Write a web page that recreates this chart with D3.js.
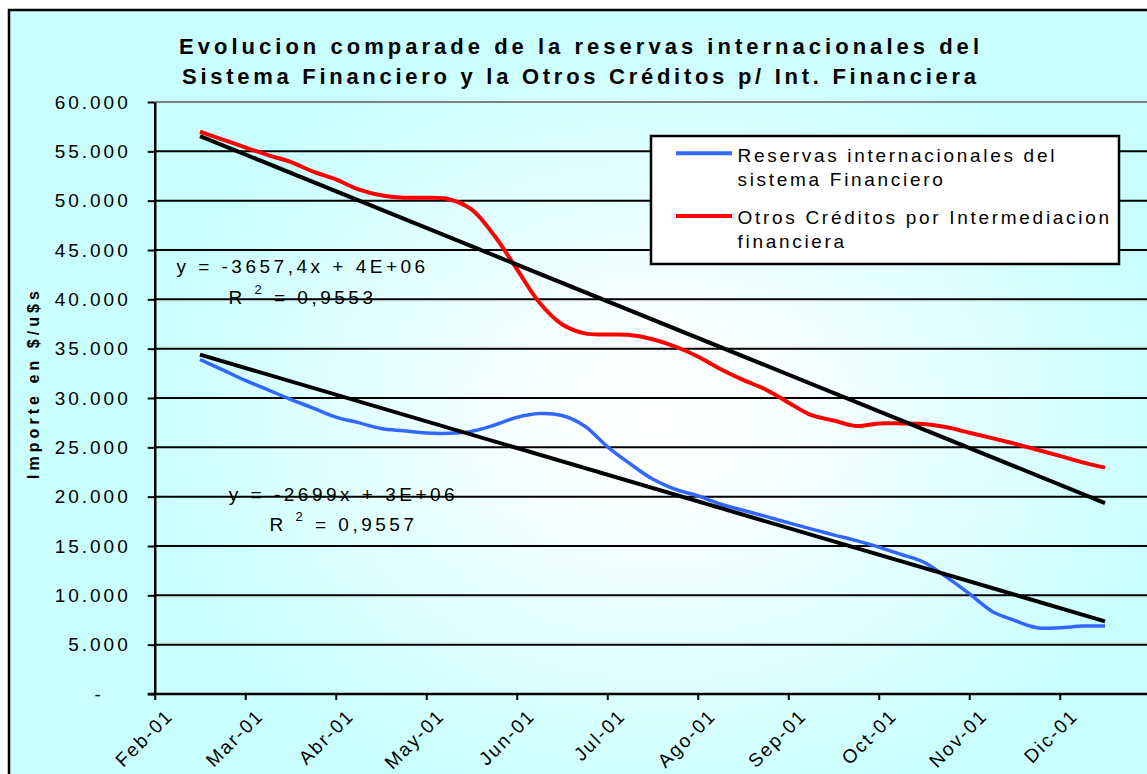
<!DOCTYPE html>
<html>
<head>
    <meta charset="utf-8">
    <script src="https://cdn.jsdelivr.net/npm/d3@7"></script>
    <title>Evolucion comparada</title>
    <style>
        body { margin: 0; background: #ffffff; }
        svg { display: block; }
        text { font-family: Arial, "Liberation Sans", sans-serif; fill: #000; }
    </style>
</head>
<body>
<script>

    // Month ticks (position 0 = Feb-01)
    var months = ["Feb-01", "Mar-01", "Abr-01", "May-01", "Jun-01", "Jul-01",
                  "Ago-01", "Sep-01", "Oct-01", "Nov-01", "Dic-01"];
    var monthPos = [0, 1, 2, 3, 4, 5, 6, 7, 8, 9, 10];

    // Sample positions along the month axis
    var samplePos = [0.5, 0.75, 1, 1.25, 1.5, 1.75, 2, 2.25, 2.5, 2.75,
                     3, 3.25, 3.5, 3.75, 4, 4.25, 4.5, 4.75, 5, 5.25,
                     5.5, 5.75, 6, 6.25, 6.5, 6.75, 7, 7.25, 7.5, 7.75,
                     8, 8.25, 8.5, 8.75, 9, 9.25, 9.5, 9.75, 10, 10.25, 10.5];

    // Reservas internacionales del sistema Financiero
    var reservas = [33900, 32850, 31790, 30830, 29870, 28980, 28070, 27500, 26910, 26670,
                    26450, 26420, 26620, 27240, 28040, 28430, 28230, 27170, 25080, 23350,
                    21790, 20750, 20090, 19260, 18620, 18000, 17360, 16730, 16130, 15540,
                    14890, 14140, 13350, 11840, 10180, 8390, 7460, 6720, 6720, 6880, 6890];

    // Otros Creditos por Intermediacion financiera
    var otrosCreditos = [57000, 56190, 55390, 54620, 53930, 52940, 52160, 51140, 50540, 50300,
                         50300, 50150, 49120, 46490, 43090, 39680, 37470, 36550, 36440, 36380,
                         35960, 35220, 34210, 32940, 31830, 30860, 29550, 28280, 27720, 27160,
                         27420, 27420, 27360, 27030, 26480, 25930, 25370, 24760, 24130, 23480, 22940];

    var yTicks = [0, 5000, 10000, 15000, 20000, 25000, 30000, 35000, 40000, 45000, 50000, 55000, 60000];

    var titleLines = ["Evolucion comparade de la reservas internacionales del",
                      "Sistema Financiero y la Otros Créditos p/ Int. Financiera"];
    var legendReservas = ["Reservas internacionales del", "sistema Financiero"];
    var legendOtros = ["Otros Créditos por Intermediacion", "financiera"];

    var eqOtros = ["y = -3657,4x + 4E+06", "0,9553"];
    var eqReservas = ["y = -2699x + 3E+06", "0,9557"];

    var width = 1147;
    var height = 774;

    var x = d3.scaleLinear().domain([0, 10]).range([154.75, 1059.75]);
    var y = d3.scaleLinear().domain([0, 60000]).range([694, 102]);

    var svg = d3.select("body").append("svg")
        .attr("width", width)
        .attr("height", height);

    // Background gradient
    var defs = svg.append("defs");
    var grad = defs.append("radialGradient")
        .attr("id", "bg")
        .attr("gradientUnits", "userSpaceOnUse")
        .attr("cx", 0).attr("cy", 0).attr("r", 1)
        .attr("gradientTransform", "translate(660,420) scale(520,400)");
    grad.append("stop").attr("offset", "0%").attr("stop-color", "#ffffff");
    grad.append("stop").attr("offset", "25%").attr("stop-color", "#f8ffff");
    grad.append("stop").attr("offset", "100%").attr("stop-color", "#c9ffff");

    svg.append("rect")
        .attr("x", 9).attr("y", 10)
        .attr("width", 1400).attr("height", 900)
        .attr("fill", "url(#bg)")
        .attr("stroke", "#000")
        .attr("stroke-width", 2.5);

    // Title
    svg.selectAll(".title")
        .data(titleLines)
        .enter().append("text")
        .attr("class", "title")
        .attr("x", 579)
        .attr("y", function(d, i) { return 54 + i * 29.5; })
        .attr("text-anchor", "middle")
        .attr("font-size", 22)
        .attr("font-weight", "bold")
        .attr("textLength", function(d, i) { return i == 0 ? 800 : 794; })
        .attr("lengthAdjust", "spacing")
        .text(function(d) { return d; });

    // Gridlines
    var xRight = x(11.2);
    svg.selectAll(".grid")
        .data(yTicks.filter(function(d) { return d > 0; }))
        .enter().append("line")
        .attr("x1", x.range()[0]).attr("x2", xRight)
        .attr("y1", function(d) { return y(d); })
        .attr("y2", function(d) { return y(d); })
        .attr("stroke", function(d) { return d == 60000 ? "#808080" : "#000"; })
        .attr("stroke-width", 2);

    // Y axis
    var yAxis = d3.axisLeft(y)
        .tickValues(yTicks)
        .tickSize(7)
        .tickSizeOuter(0)
        .tickFormat(function(d) {
            return d == 0 ? "-" : d3.format(",")(d).replace(/,/g, ".");
        });

    var gy = svg.append("g")
        .attr("transform", "translate(" + x.range()[0] + ",0)")
        .call(yAxis);
    gy.select(".domain").attr("stroke-width", 2.5);
    gy.selectAll(".tick line").attr("stroke-width", 2);
    gy.selectAll(".tick text")
        .attr("font-size", 19)
        .attr("font-family", "Arial, 'Liberation Sans', sans-serif")
        .attr("letter-spacing", 3)
        .attr("fill", "#000")
        .attr("x", function(d) { return d == 0 ? -51 : -24; });

    // X axis
    var xAxis = d3.axisBottom(x)
        .tickValues(monthPos)
        .tickSize(6)
        .tickSizeOuter(0)
        .tickFormat(function(d, i) { return months[i]; });

    var gx = svg.append("g")
        .attr("transform", "translate(0," + y(0) + ")")
        .call(xAxis);
    gx.select(".domain").remove();
    gx.append("line")
        .attr("x1", x.range()[0] - 7).attr("x2", xRight)
        .attr("y1", 0).attr("y2", 0)
        .attr("stroke", "#000")
        .attr("stroke-width", 2.5);
    gx.selectAll(".tick line").attr("stroke-width", 2);
    gx.selectAll(".tick text")
        .attr("font-size", 19)
        .attr("font-family", "Arial, 'Liberation Sans', sans-serif")
        .attr("letter-spacing", 2)
        .attr("fill", "#000")
        .attr("x", 0).attr("y", 0).attr("dy", 0)
        .attr("text-anchor", "end")
        .attr("transform", "translate(19,23) rotate(-45)");

    // Y axis title
    svg.append("text")
        .attr("transform", "translate(39,385) rotate(-90)")
        .attr("text-anchor", "middle")
        .attr("font-size", 16)
        .attr("font-weight", "bold")
        .attr("textLength", 188)
        .attr("lengthAdjust", "spacing")
        .text("Importe en $/u$s");

    // Series
    var seriesData = function(vals) {
        return samplePos.map(function(p, i) { return [p, vals[i]]; });
    };

    var line = d3.line()
        .x(function(d) { return x(d[0]); })
        .y(function(d) { return y(d[1]); })
        .curve(d3.curveCatmullRom.alpha(0.5));

    // Linear trend (least squares)
    function trend(vals) {
        var mx = d3.mean(samplePos);
        var my = d3.mean(vals);
        var num = 0, den = 0;
        samplePos.forEach(function(p, i) {
            num += (p - mx) * (vals[i] - my);
            den += (p - mx) * (p - mx);
        });
        var b = num / den;
        var a = my - b * mx;
        var ends = [samplePos[0], samplePos[samplePos.length - 1]];
        return ends.map(function(p) { return [p, a + b * p]; });
    }

    svg.append("path")
        .datum(seriesData(reservas))
        .attr("d", line)
        .attr("fill", "none")
        .attr("stroke", "#3366ff")
        .attr("stroke-width", 3.5)
        .attr("stroke-linejoin", "round");

    svg.append("path")
        .datum(seriesData(otrosCreditos))
        .attr("d", line)
        .attr("fill", "none")
        .attr("stroke", "#ff0000")
        .attr("stroke-width", 4)
        .attr("stroke-linejoin", "round");

    var straight = d3.line()
        .x(function(d) { return x(d[0]); })
        .y(function(d) { return y(d[1]); });

    [reservas, otrosCreditos].forEach(function(vals) {
        svg.append("path")
            .datum(trend(vals))
            .attr("d", straight)
            .attr("fill", "none")
            .attr("stroke", "#000")
            .attr("stroke-width", 4);
    });

    // Trend equations
    function equation(cx, y1, y2, eq) {
        svg.append("text")
            .attr("x", cx).attr("y", y1)
            .attr("text-anchor", "middle")
            .attr("font-size", 19)
            .attr("letter-spacing", 3.5)
            .text(eq[0]);
        var t = svg.append("text")
            .attr("x", cx).attr("y", y2)
            .attr("text-anchor", "middle")
            .attr("font-size", 19)
            .attr("letter-spacing", 3.5);
        t.append("tspan").text("R ");
        t.append("tspan").attr("font-size", 13).attr("dy", -10).text("2");
        t.append("tspan").attr("dy", 10).text(" = " + eq[1]);
    }
    equation(302.5, 273.3, 304, eqOtros);
    equation(343.5, 500.7, 530.7, eqReservas);

    // Legend
    var legend = svg.append("g");
    legend.append("rect")
        .attr("x", 651).attr("y", 136)
        .attr("width", 468).attr("height", 128)
        .attr("fill", "#fff")
        .attr("stroke", "#000")
        .attr("stroke-width", 2.5);

    var legendItems = [
        { lines: legendReservas, color: "#3366ff", y: 153.3 },
        { lines: legendOtros, color: "#ff0000", y: 216 }
    ];
    legendItems.forEach(function(item) {
        legend.append("line")
            .attr("x1", 676).attr("x2", 732)
            .attr("y1", item.y).attr("y2", item.y)
            .attr("stroke", item.color)
            .attr("stroke-width", 4);
        legend.selectAll(null)
            .data(item.lines)
            .enter().append("text")
            .attr("x", 737.5)
            .attr("y", function(d, i) { return item.y + 8.4 + i * 24; })
            .attr("font-size", 19)
            .attr("letter-spacing", 2.7)
            .text(function(d) { return d; });
    });

</script>
</body>
</html>
